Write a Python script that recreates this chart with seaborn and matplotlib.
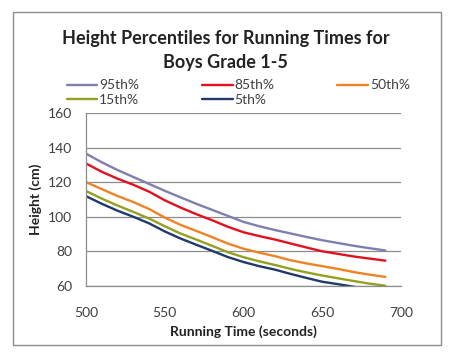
"""Height percentiles vs running time, boys grade 1-5."""

import pandas as pd
import seaborn as sns
import matplotlib.pyplot as plt
from matplotlib.patches import Rectangle

TIMES = [500, 510, 520, 530, 540, 550, 560, 570, 580, 590,
         600, 610, 620, 630, 640, 650, 660, 670, 680, 690]
P95 = [136.5, 131.5, 127.0, 123.0, 119.0, 115.0, 111.2, 107.5, 104.0, 100.5,
       97.0, 94.5, 92.3, 90.3, 88.3, 86.4, 84.8, 83.2, 81.8, 80.5]
P85 = [130.8, 126.0, 122.0, 118.5, 114.5, 109.5, 105.3, 101.5, 98.0, 94.2,
       91.0, 88.8, 86.8, 84.5, 82.2, 80.0, 78.5, 77.0, 75.8, 74.6]
P50 = [120.0, 116.0, 112.0, 108.5, 104.5, 99.5, 95.3, 91.8, 88.2, 84.5,
       81.5, 79.2, 77.2, 74.8, 73.0, 71.4, 69.8, 68.0, 66.5, 65.2]
P15 = [114.9, 110.5, 106.5, 102.8, 99.0, 94.5, 90.3, 86.8, 83.2, 79.5,
       76.6, 74.2, 72.1, 69.8, 67.8, 66.0, 64.4, 62.8, 61.3, 60.1]
P5 = [111.9, 107.5, 103.5, 100.0, 96.2, 91.5, 87.4, 83.8, 80.3, 76.7,
      73.8, 71.4, 69.4, 66.9, 64.6, 62.4, 61.0, 59.5, 58.0, 56.8]

SERIES = ["95th%", "85th%", "50th%", "15th%", "5th%"]
COLORS = ["#7F7FAD", "#E3101E", "#F08226", "#93A020", "#1F3A6B"]
X_TICKS = [500, 550, 600, 650, 700]
Y_TICKS = [60, 80, 100, 120, 140, 160]

TEXT_GREY = "#404040"


def main():
    rows = []
    for name, vals in zip(SERIES, [P95, P85, P50, P15, P5]):
        for t, v in zip(TIMES, vals):
            rows.append({"time": t, "height": v, "pct": name})
    df = pd.DataFrame(rows)

    sns.set_theme(style="white")
    plt.rcParams['font.family'] = ['Lato', 'DejaVu Sans']

    fig = plt.figure(figsize=(4.6, 3.61), dpi=100)
    ax = fig.add_axes([0.187, 0.208, 0.685, 0.479])

    sns.lineplot(data=df, x="time", y="height", hue="pct", hue_order=SERIES,
                 palette=COLORS, linewidth=1.7, ax=ax, legend=False)

    ax.set_xlim(500, 700)
    ax.set_ylim(60, 160)
    ax.set_xticks(X_TICKS)
    ax.set_yticks(Y_TICKS)
    ax.yaxis.grid(True, color="#8C8C8C", linewidth=0.9)
    ax.set_axisbelow(True)
    for side in ["top", "right"]:
        ax.spines[side].set_visible(False)
    for side in ["left", "bottom"]:
        ax.spines[side].set_color("#8C8C8C")
        ax.spines[side].set_linewidth(0.9)
    ax.tick_params(axis="both", direction="out", length=4, width=0.9,
                   color="#8C8C8C", labelsize=10, labelcolor=TEXT_GREY, pad=6)
    ax.tick_params(axis="x", pad=11)
    ax.set_xlabel("Running Time (seconds)", fontsize=10, fontweight="bold",
                  color="#222222", labelpad=5)
    ax.set_ylabel("Height (cm)", fontsize=10, fontweight="bold",
                  color="#222222", labelpad=4)

    fig.text(0.49, 0.86, "Height Percentiles for Running Times for\nBoys Grade 1-5",
             ha="center", va="center", fontsize=13, fontweight="bold",
             color="#222222", linespacing=1.45)

    lines = ax.get_lines()
    handles = {name: line for name, line in zip(SERIES, lines)}
    order = ["95th%", "15th%", "85th%", "5th%", "50th%"]
    fig.legend([handles[n] for n in order], order, ncol=3, frameon=False,
               loc="center left", bbox_to_anchor=(0.145, 0.743),
               fontsize=10, handlelength=2.2, handletextpad=0.15,
               columnspacing=4.5, labelspacing=0.2, labelcolor=TEXT_GREY,
               borderpad=0, borderaxespad=0)

    fig.patches.append(Rectangle((13 / 460, 1 - 345 / 361), 428 / 460, 333 / 361,
                                 transform=fig.transFigure, fill=False,
                                 edgecolor="#8C8C8C", linewidth=1.0))

    fig.savefig("out.png", dpi=100)


if __name__ == "__main__":
    main()
